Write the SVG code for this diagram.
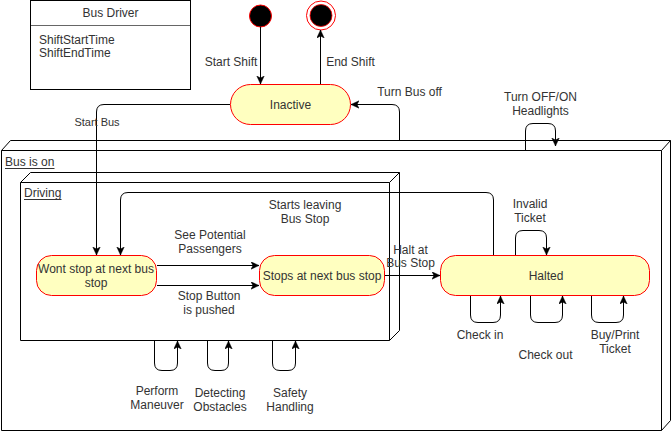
<svg xmlns="http://www.w3.org/2000/svg" width="671" height="432" viewBox="0 0 671 432">
<defs>
<style>
text{font-family:"Liberation Sans",Arial,sans-serif;font-size:12px;fill:#333}
.c{text-anchor:middle}
.box{fill:#fff;stroke:#000;stroke-width:1}
.state{fill:#ffffc0;stroke:#ff0000;stroke-width:1}
.edge{fill:none;stroke:#000;stroke-width:1}
.arr{marker-end:url(#ah)}
</style>
<marker id="ah" markerUnits="userSpaceOnUse" markerWidth="10" markerHeight="10" refX="8" refY="4" orient="auto">
<path d="M0,0.3 L8,4 L0,7.7 L2,4 Z" fill="#000" stroke="#000" stroke-width="0.5"/>
</marker>
</defs>
<rect width="671" height="432" fill="#fff"/>

<g id="bus-driver">
<rect class="box" x="30.5" y="0.5" width="160" height="89"/>
<line x1="30.5" y1="25.5" x2="190.5" y2="25.5" stroke="#000" stroke-opacity="0.6"/>
<text class="c" x="110.5" y="17">Bus Driver</text>
<text x="39" y="44">ShiftStartTime</text>
<text x="39" y="57">ShiftEndTime</text>
</g>

<g id="bus-is-on">
<path class="box" d="M1.5,150.5 L10.5,140.5 H670.5 V420.5 L661.5,430.5 H1.5 Z"/>
<path class="edge" d="M1.5,150.5 H661.5 V430.5 M661.5,150.5 L670.5,140.5"/>
<text x="5" y="166">Bus is on</text>
<line x1="5" y1="168.5" x2="54.5" y2="168.5" stroke="#333"/>
</g>

<g id="driving">
<path class="box" d="M20.5,182.5 L30.5,172.5 H399.5 V330.5 L389.5,340.5 H20.5 Z"/>
<path class="edge" d="M20.5,182.5 H389.5 V340.5 M389.5,182.5 L399.5,172.5"/>
<text x="24" y="197">Driving</text>
<line x1="24" y1="199.5" x2="61.5" y2="199.5" stroke="#333"/>
</g>

<g id="initial">
<circle cx="260.5" cy="16" r="11" fill="#000" stroke="#ff0000"/>
</g>
<g id="final">
<circle cx="321" cy="15.5" r="14.5" fill="#fff" stroke="#ff0000"/>
<circle cx="321" cy="15.5" r="11" fill="#000" stroke="#ff0000" stroke-width="0.8"/>
</g>

<g id="inactive">
<rect class="state" x="230.5" y="84.5" width="120" height="40" rx="20"/>
<text class="c" x="290.5" y="109">Inactive</text>
</g>

<g id="wont-stop">
<rect class="state" x="36.5" y="255.5" width="120" height="40" rx="15"/>
<text class="c" x="96" y="273">Wont stop at next bus</text>
<text class="c" x="96" y="287">stop</text>
</g>

<g id="stops-at">
<rect class="state" x="259.5" y="255.5" width="125" height="40" rx="15"/>
<text class="c" x="322" y="280">Stops at next bus stop</text>
</g>

<g id="halted">
<rect class="state" x="440.5" y="255.5" width="209" height="40" rx="15"/>
<text class="c" x="546" y="280">Halted</text>
</g>

<g id="connectors">
<path class="edge arr" d="M260.5,27 V84"/>
<path class="edge arr" d="M320.5,84 V30"/>
<path class="edge arr" d="M399.5,141 V112 Q399.5,104.5 392,104.5 H351"/>
<path class="edge arr" d="M525.5,150.5 V131 Q525.5,123.5 533,123.5 H548 Q555.5,123.5 555.5,131 V146"/>
<path class="edge arr" d="M230,104.5 H104 Q96.5,104.5 96.5,112 V255"/>
<path class="edge arr" d="M493.5,255 V200 Q493.5,192.5 486,192.5 H128 Q120.5,192.5 120.5,200 V255"/>
<path class="edge arr" d="M157,265.5 H259"/>
<path class="edge arr" d="M157,285.5 H259"/>
<path class="edge arr" d="M385,275.5 H440"/>
<path class="edge arr" d="M515.5,255 V238 Q515.5,230.5 523,230.5 H539 Q546.5,230.5 546.5,238 V255"/>
<path class="edge arr" d="M470.5,296 V315 Q470.5,322.5 478,322.5 H493 Q500.5,322.5 500.5,315 V296"/>
<path class="edge arr" d="M530.5,296 V315 Q530.5,322.5 538,322.5 H555 Q562.5,322.5 562.5,315 V296"/>
<path class="edge arr" d="M591.5,296 V315 Q591.5,322.5 599,322.5 H616 Q623.5,322.5 623.5,315 V296"/>
<path class="edge arr" d="M154.5,341 V363 Q154.5,370.5 162,370.5 H170 Q177.5,370.5 177.5,363 V341"/>
<path class="edge arr" d="M207.5,341 V363 Q207.5,370.5 215,370.5 H221 Q228.5,370.5 228.5,363 V341"/>
<path class="edge arr" d="M272.5,341 V363 Q272.5,370.5 280,370.5 H288 Q295.5,370.5 295.5,363 V341"/>
</g>

<g id="labels">
<text class="c" x="231" y="66">Start Shift</text>
<text class="c" x="350.5" y="66">End Shift</text>
<text class="c" x="409.5" y="96">Turn Bus off</text>
<text class="c" x="540.5" y="101">Turn OFF/ON</text>
<text class="c" x="540.5" y="115">Headlights</text>
<text class="c" x="97" y="126" style="font-size:11px">Start Bus</text>
<text class="c" x="305" y="209">Starts leaving</text>
<text class="c" x="305" y="223">Bus Stop</text>
<text class="c" x="210" y="239">See Potential</text>
<text class="c" x="210" y="253">Passengers</text>
<text class="c" x="209" y="300">Stop Button</text>
<text class="c" x="209" y="314">is pushed</text>
<text class="c" x="410.5" y="254">Halt at</text>
<text class="c" x="410.5" y="267">Bus Stop</text>
<text class="c" x="530" y="208">Invalid</text>
<text class="c" x="530" y="222">Ticket</text>
<text class="c" x="480" y="339">Check in</text>
<text class="c" x="545.5" y="359">Check out</text>
<text class="c" x="615" y="339">Buy/Print</text>
<text class="c" x="615" y="353">Ticket</text>
<text class="c" x="157" y="395">Perform</text>
<text class="c" x="157" y="408.5">Maneuver</text>
<text class="c" x="220" y="397">Detecting</text>
<text class="c" x="220" y="411">Obstacles</text>
<text class="c" x="290" y="397">Safety</text>
<text class="c" x="290" y="411">Handling</text>
</g>
</svg>
